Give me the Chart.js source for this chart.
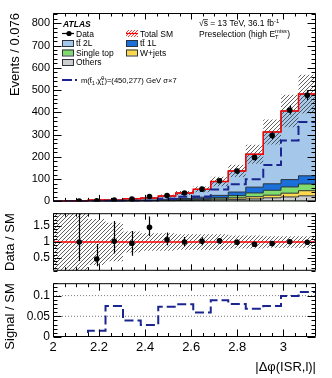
<!DOCTYPE html>
<html lang="en">
<head>
<meta charset="UTF-8">
<title>Preselection |dphi(ISR,l)|</title>
<script src="https://cdn.jsdelivr.net/npm/chart.js"></script>
<style>
  html, body { margin: 0; padding: 0; background: #fff; }
  #wrap { position: relative; width: 332px; height: 378px; overflow: hidden; }
  #wrap canvas { position: absolute; left: 0; }
</style>
</head>
<body>
<div id="wrap">
  <canvas id="mainChart" width="332" height="211" style="top:0px"></canvas>
  <canvas id="ratioChart" width="332" height="78" style="top:203px"></canvas>
  <canvas id="sigChart" width="332" height="105" style="top:273px"></canvas>
</div>
<script>
// 15 bins of 0.076 in |dphi(ISR,l)|
const binEdges = [2.000, 2.076, 2.152, 2.228, 2.304, 2.381, 2.457, 2.533, 2.609, 2.685, 2.761, 2.837, 2.913, 2.990, 3.066, 3.142];

// backgrounds (events / bin), bottom of the stack last
const ttbar2L   = [0.15, 1.2, 2.4, 2.5, 6.5, 9, 15, 25, 35, 62, 95, 148, 233, 308, 367];
const ttbar1L   = [0.1, 0.3, 2, 1.5, 2, 2, 3, 4, 7, 10, 16, 26, 29, 33, 37];
const singleTop = [0.1, 0.2, 1, 0.5, 1, 1, 2, 3, 4, 6, 10, 17, 22, 28, 30];
const wJets     = [0.05, 0.1, 0.5, 0.5, 1, 1, 1, 2, 3, 4, 7, 10, 12, 17, 23];
const others    = [0.1, 0.2, 0.5, 1, 1, 2, 3, 4, 5, 7, 9, 11, 16, 20, 25];
// relative uncertainty of total SM (hatched band)
const sysRel    = [0.95, 0.95, 0.72, 0.6, 0.33, 0.27, 0.27, 0.24, 0.24, 0.24, 0.2, 0.2, 0.18, 0.18, 0.18];

const dataVals  = [null, 2, 3, 6, 11, 22, 26, 38, 55, 93, 136, 197, 296, 410, 477];
const dataErr   = [0, 1.4, 1.7, 2.4, 3.3, 4.7, 5.1, 6.2, 7.4, 9.6, 11.7, 14, 17.2, 20.2, 21.8];

// signal m(stop, LSP) = (450,277) GeV, scaled x7
const signalX7  = [0, 0, 0.7, 3.2, 3.2, 3, 12, 21, 22, 53, 77, 100, 164, 274, 357];

// Data / SM
const ratioVals = [null, 1.0, 0.47, 1.02, 0.96, 1.46, 1.07, 1.0, 1.02, 1.04, 0.99, 0.93, 0.95, 1.01, 0.99];
const ratioLo   = [null, 0.41, 0.245, 0.64, 0.57, 1.19, 0.90, 0.86, 0.90, 0.94, 0.90, 0.87, 0.90, 0.96, 0.95];
const ratioHi   = [null, 2.3, 0.94, 1.66, 1.34, 1.80, 1.30, 1.16, 1.15, 1.11, 1.08, 1.00, 1.01, 1.06, 1.04];

// Signal / SM
const sigOverSM = [0, 0, 0.015, 0.075, 0.04, 0.029, 0.073, 0.079, 0.059, 0.089, 0.08, 0.068, 0.075, 0.099, 0.109];

const mainTicks  = [0, 100, 200, 300, 400, 500, 600, 700, 800];
const ratioTicks = [0.5, 1, 1.5];
const sigTicks   = [0, 0.05, 0.1];
const xTicks     = [2, 2.2, 2.4, 2.6, 2.8, 3];

const family = '"Liberation Sans", Arial, Helvetica, sans-serif';
const navy = '#1b2590';
const edge = '#2b3340';

const binCenters = binEdges.slice(0, -1).map((e, i) => (e + binEdges[i + 1]) / 2);

// cumulative stack
const cum = [];
let run = others.map(() => 0);
[others, wJets, singleTop, ttbar1L, ttbar2L].forEach(arr => {
  run = run.map((v, i) => v + arr[i]);
  cum.push(run);
});
const totalSM = cum[4];

function hatch(color, size, lw) {
  const c = document.createElement('canvas');
  c.width = c.height = size;
  const g = c.getContext('2d');
  g.strokeStyle = color;
  g.lineWidth = lw;
  g.beginPath();
  g.moveTo(0, size); g.lineTo(size, 0);
  g.moveTo(-1, 1); g.lineTo(1, -1);
  g.moveTo(size - 1, size + 1); g.lineTo(size + 1, size - 1);
  g.stroke();
  return g.createPattern(c, 'repeat');
}
const grayHatch = hatch('#3a3a3a', 4, 0.8);
const redHatch = hatch('#ff2020', 3, 0.9);

function stepPts(vals) {
  const pts = vals.map((v, i) => ({x: binEdges[i], y: v}));
  pts.push({x: binEdges[vals.length], y: vals[vals.length - 1]});
  return pts;
}
function stepLine(vals, extra) {
  return Object.assign({data: stepPts(vals), stepped: true, pointRadius: 0, borderWidth: 1, fill: false}, extra);
}
function flatLine(v, extra) {
  return Object.assign({data: [{x: binEdges[0], y: v}, {x: binEdges[15], y: v}], pointRadius: 0, fill: false}, extra);
}
function points(vals) {
  return {
    data: binCenters.map((c, i) => ({x: c, y: vals[i]})),
    showLine: false, pointRadius: 2.8, pointBackgroundColor: '#000', pointBorderWidth: 0, pointHoverRadius: 0
  };
}

// frame with inward ticks on all four sides (ROOT style)
function makeFrame(yMinor, yMajor, yLen, xLen) {
  return {
    id: 'frame',
    afterDraw(chart) {
      const {ctx, chartArea: a, scales: {x, y}} = chart;
      const L = a.left + 0.5, R = a.right - 0.5, T = a.top + 0.5, B = a.bottom - 0.5;
      ctx.save();
      ctx.strokeStyle = '#000';
      ctx.lineWidth = 1;
      ctx.beginPath();
      ctx.rect(L, T, R - L, B - T);
      for (let k = 0; ; k++) {
        const v = 2 + k * 0.05;
        if (v > x.max + 1e-9) break;
        const px = Math.round(x.getPixelForValue(v)) + 0.5;
        const len = (k % 4 === 0) ? xLen : xLen / 2;
        ctx.moveTo(px, B); ctx.lineTo(px, B - len);
        ctx.moveTo(px, T); ctx.lineTo(px, T + len);
      }
      const start = Math.ceil(y.min / yMinor - 1e-6);
      for (let k = start; ; k++) {
        const v = k * yMinor;
        if (v > y.max + 1e-9) break;
        const py = Math.round(y.getPixelForValue(v)) + 0.5;
        const r = v / yMajor;
        const len = Math.abs(r - Math.round(r)) < 1e-6 ? yLen : yLen / 2;
        ctx.moveTo(L, py); ctx.lineTo(L + len, py);
        ctx.moveTo(R, py); ctx.lineTo(R - len, py);
      }
      ctx.stroke();
      ctx.restore();
    }
  };
}

function makeErrors(vals, lo, hi) {
  return {
    id: 'errors',
    afterDatasetsDraw(chart) {
      const {ctx, chartArea: a, scales: {x, y}} = chart;
      ctx.save();
      ctx.beginPath();
      ctx.rect(a.left, a.top, a.right - a.left, a.bottom - a.top);
      ctx.clip();
      ctx.strokeStyle = '#000';
      ctx.lineWidth = 1.2;
      binCenters.forEach((c, i) => {
        if (vals[i] == null) return;
        const px = Math.round(x.getPixelForValue(c)) + 0.5;
        ctx.beginPath();
        ctx.moveTo(px, y.getPixelForValue(lo[i]));
        ctx.lineTo(px, y.getPixelForValue(hi[i]));
        ctx.stroke();
      });
      ctx.restore();
    }
  };
}

// text with sub/superscripts, y = baseline
function drawRich(ctx, x, y, parts, size) {
  for (const p of parts) {
    if (typeof p === 'string') {
      ctx.font = size + 'px ' + family;
      ctx.fillText(p, x, y);
      x += ctx.measureText(p).width;
    } else {
      ctx.font = (size * 0.68) + 'px ' + family;
      let w = 0;
      if (p.sup) { ctx.fillText(p.sup, x, y - size * 0.4); w = ctx.measureText(p.sup).width; }
      if (p.sub) { ctx.fillText(p.sub, x, y + size * 0.25); w = Math.max(w, ctx.measureText(p.sub).width); }
      x += w + 0.3;
    }
  }
  return x;
}

const legendPlugin = {
  id: 'legendText',
  afterDraw(chart) {
    const ctx = chart.ctx;
    const fs = 8.5;
    ctx.save();
    ctx.fillStyle = '#000';
    ctx.textBaseline = 'alphabetic';
    ctx.textAlign = 'left';

    ctx.font = 'italic bold 8.5px ' + family;
    ctx.fillText('ATLAS', 63, 27);

    // Data
    ctx.strokeStyle = '#000';
    ctx.lineWidth = 1.2;
    ctx.beginPath(); ctx.moveTo(62, 33.5); ctx.lineTo(74, 33.5); ctx.stroke();
    ctx.beginPath(); ctx.arc(69, 33.5, 2.6, 0, Math.PI * 2); ctx.fill();
    drawRich(ctx, 76, 36.5, ['Data'], fs);

    const box = (x, y, col) => {
      ctx.fillStyle = col;
      ctx.fillRect(x, y, 11, 6);
      ctx.strokeStyle = edge;
      ctx.lineWidth = 1;
      ctx.strokeRect(x + 0.5, y + 0.5, 11, 6);
      ctx.fillStyle = '#000';
    };
    box(62, 40, '#a4c7ea');
    drawRich(ctx, 76, 46, ['tt\u0304 2L'], fs);
    box(62, 49.5, '#80dc6c');
    drawRich(ctx, 76, 55.5, ['Single top'], fs);
    box(62, 59, '#cdcdcd');
    drawRich(ctx, 76, 65, ['Others'], fs);

    // Total SM
    ctx.fillStyle = redHatch;
    ctx.fillRect(126, 30, 12, 7);
    ctx.strokeStyle = '#ff0000';
    ctx.lineWidth = 1.2;
    ctx.beginPath(); ctx.moveTo(126, 33.5); ctx.lineTo(138, 33.5); ctx.stroke();
    ctx.fillStyle = '#000';
    drawRich(ctx, 140, 36.5, ['Total SM'], fs);
    box(126, 40, '#1a6fd8');
    drawRich(ctx, 140, 46, ['tt\u0304 1L'], fs);
    box(126, 49.5, '#ffd84d');
    drawRich(ctx, 140, 55.5, ['W+jets'], fs);

    // signal
    ctx.strokeStyle = navy;
    ctx.lineWidth = 2;
    ctx.beginPath(); ctx.moveTo(62, 80); ctx.lineTo(72, 80); ctx.moveTo(75, 80); ctx.lineTo(77, 80); ctx.stroke();
    drawRich(ctx, 81, 83, ['m(t\u0303', {sub: '1'}, ',\u03C7\u0303', {sup: '0', sub: '1'}, ')=(450,277) GeV \u03C3\u00D77'], 7.6);

    // top right
    const x0 = 199;
    ctx.font = fs + 'px ' + family;
    const wRoot = ctx.measureText('\u221A').width;
    const wS = ctx.measureText('s').width;
    drawRich(ctx, x0, 26, ['\u221As = 13 TeV, 36.1 fb', {sup: '-1'}], fs);
    ctx.strokeStyle = '#000';
    ctx.lineWidth = 0.7;
    ctx.beginPath(); ctx.moveTo(x0 + wRoot - 0.5, 19.6); ctx.lineTo(x0 + wRoot + wS, 19.6); ctx.stroke();
    drawRich(ctx, x0, 36.5, ['Preselection (high E', {sub: 'T', sup: 'miss'}, ')'], fs);
    ctx.restore();
  }
};

function yScale(min, max, ticks, title, tickSize, titlePad) {
  return {
    type: 'linear', position: 'left', min: min, max: max,
    grid: {display: false, drawTicks: false},
    border: {display: false},
    afterBuildTicks: s => { s.ticks = ticks.map(v => ({value: v})); },
    afterFit: s => { s.width = 53; },
    ticks: {padding: 3, color: '#000', font: {family: family, size: tickSize}, callback: v => String(v)},
    title: {display: true, text: title, align: 'end', color: '#000', font: {family: family, size: 13}, padding: {top: titlePad, bottom: 0}}
  };
}
const hiddenX = {type: 'linear', min: binEdges[0], max: binEdges[15], display: false};
const common = {
  responsive: false, animation: false, events: [],
  plugins: {legend: {display: false}, tooltip: {enabled: false}}
};

new Chart(document.getElementById('mainChart'), {
  type: 'line',
  data: {datasets: [
    points(dataVals),
    stepLine(signalX7, {borderColor: navy, borderWidth: 2, borderDash: [9, 4]}),
    stepLine(totalSM, {borderColor: '#ff0000', borderWidth: 1.5}),
    stepLine(totalSM.map((v, i) => v * (1 + sysRel[i])), {borderColor: 'transparent', fill: '+1', backgroundColor: grayHatch}),
    stepLine(totalSM.map((v, i) => v * (1 - sysRel[i])), {borderColor: 'transparent'}),
    stepLine(cum[0], {borderColor: edge, backgroundColor: '#cdcdcd', fill: 'origin'}),
    stepLine(cum[1], {borderColor: edge, backgroundColor: '#ffd84d', fill: 'origin'}),
    stepLine(cum[2], {borderColor: edge, backgroundColor: '#80dc6c', fill: 'origin'}),
    stepLine(cum[3], {borderColor: edge, backgroundColor: '#1a6fd8', fill: 'origin'}),
    stepLine(cum[4], {borderColor: edge, backgroundColor: '#a4c7ea', fill: 'origin'})
  ]},
  options: Object.assign({}, common, {
    layout: {padding: {top: 13, right: 16, bottom: 4, left: 0}},
    scales: {x: hiddenX, y: yScale(0, 846, mainTicks, 'Events / 0.076', 11, 7.5)}
  }),
  plugins: [
    makeErrors(dataVals, dataVals.map((v, i) => v - dataErr[i]), dataVals.map((v, i) => v + dataErr[i])),
    makeFrame(20, 100, 8, 6),
    legendPlugin
  ]
});

new Chart(document.getElementById('ratioChart'), {
  type: 'line',
  data: {datasets: [
    points(ratioVals),
    flatLine(1, {borderColor: '#ff0000', borderWidth: 1.5}),
    stepLine(sysRel.map(u => 1 + u), {borderColor: 'transparent', fill: '+1', backgroundColor: grayHatch}),
    stepLine(sysRel.map(u => 1 - u), {borderColor: 'transparent'})
  ]},
  options: Object.assign({}, common, {
    layout: {padding: {top: 4, right: 16, bottom: 4, left: 0}},
    scales: {x: hiddenX, y: yScale(0.1, 1.9, ratioTicks, 'Data / SM', 12, 3)}
  }),
  plugins: [makeErrors(ratioVals, ratioLo, ratioHi), makeFrame(0.1, 0.5, 8, 6)]
});

new Chart(document.getElementById('sigChart'), {
  type: 'line',
  data: {datasets: [
    stepLine(sigOverSM, {borderColor: navy, borderWidth: 2, borderDash: [9, 4]}),
    ...sigTicks.filter(v => v > 0).map(v => flatLine(v, {borderColor: '#555', borderWidth: 0.8, borderDash: [1, 2]}))
  ]},
  options: Object.assign({}, common, {
    layout: {padding: {top: 4, right: 16, bottom: 0, left: 0}},
    scales: {
      x: {
        type: 'linear', position: 'bottom', min: binEdges[0], max: binEdges[15],
        grid: {display: false, drawTicks: false},
        border: {display: false},
        afterBuildTicks: s => { s.ticks = xTicks.map(v => ({value: v})); },
        afterFit: s => { s.height = 41; },
        ticks: {padding: 3, autoSkip: false, maxRotation: 0, color: '#000', font: {family: family, size: 13}, callback: v => String(v)},
        title: {display: true, text: '|\u0394\u03C6(ISR,l)|', align: 'end', color: '#000', font: {family: family, size: 13}, padding: {top: 0, bottom: 3}}
      },
      y: yScale(0, 0.13, sigTicks, 'Signal / SM', 12, 3)
    }
  }),
  plugins: [makeFrame(0.01, 0.05, 8, 7)]
});
</script>
</body>
</html>
